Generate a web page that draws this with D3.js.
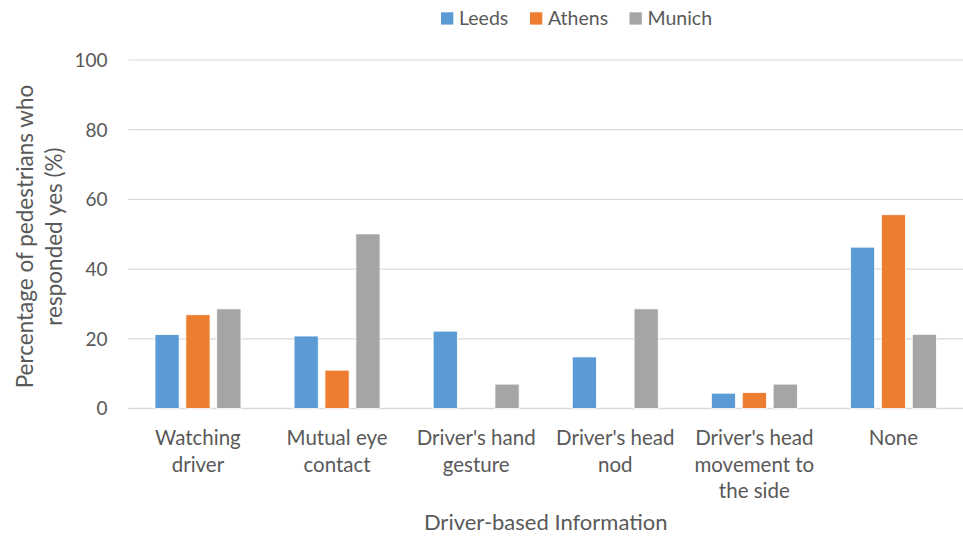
<!DOCTYPE html>
<html><head><meta charset="utf-8">
<script src="https://cdn.jsdelivr.net/npm/d3@7"></script>
<style>body{margin:0;background:#fff}svg{display:block}text{font-family:Lato,"Open Sans",sans-serif;fill:#595959}</style>
</head><body><svg id="c" width="963" height="536"></svg>
<script>
const categories = [["Watching","driver"],["Mutual eye","contact"],["Driver's hand","gesture"],["Driver's head","nod"],["Driver's head","movement to","the side"],["None"]];
const seriesNames = ["Leeds","Athens","Munich"];
const leeds = [21.2, 20.8, 22.2, 14.8, 4.4, 46.3];
const athens = [26.9, 11.0, 0, 0, 4.6, 55.6];
const munich = [28.6, 50.1, 7.0, 28.6, 7.0, 21.3];
const yTicks = [0,20,40,60,80,100];
const colors = ["#5B9BD5","#ED7D31","#A5A5A5"];

(function(){
const values = [leeds, athens, munich];
const svg = d3.select("#c");
const pL = 128.4, pR = 963, pT = 60, pB = 408.5;
const catKeys = categories.map((c,i)=>i);
const x = d3.scaleBand().domain(catKeys).range([pL,pR]).padding(0);
const groupW = x.step()*0.618;
const xs = d3.scaleBand().domain(seriesNames).range([0,groupW]).paddingInner(0.217).paddingOuter(0);
const y = d3.scaleLinear().domain([0,100]).range([pB,pT]);

svg.append("g").selectAll("line").data(yTicks).join("line")
  .attr("x1",pL).attr("x2",pR).attr("y1",d=>y(d)).attr("y2",d=>y(d))
  .attr("stroke","#D9D9D9").attr("stroke-width",d=>d===0?1.5:1.2);

svg.append("g").selectAll("text").data(yTicks).join("text")
  .attr("x",107.5).attr("y",d=>y(d)).attr("dy","0.36em").attr("text-anchor","end")
  .attr("font-size",19).text(d=>d);

const bars = [];
catKeys.forEach(ci=>seriesNames.forEach((s,si)=>{ if(values[si][ci]>0) bars.push({ci,si,s,v:values[si][ci]}); }));
svg.append("g").selectAll("rect").data(bars).join("rect")
  .attr("x",d=>x(d.ci)+(x.step()-groupW)/2+xs(d.s))
  .attr("width",xs.bandwidth())
  .attr("y",d=>y(d.v)).attr("height",d=>y(0)-y(d.v))
  .attr("fill",d=>colors[d.si]).attr("stroke","#fff").attr("stroke-width",0.8);

const cl = svg.append("g");
categories.forEach((lines,i)=>{
  const t = cl.append("text").attr("text-anchor","middle").attr("font-size",20.5)
    .attr("x",x(i)+x.step()/2).attr("y",445);
  lines.forEach((ln,j)=>t.append("tspan").attr("x",x(i)+x.step()/2).attr("dy",j===0?0:26.5).text(ln));
});

svg.append("text").attr("x",(pL+pR)/2).attr("y",530).attr("text-anchor","middle")
  .attr("font-size",22).text("Driver-based Information");

const yt = svg.append("text").attr("transform",`translate(33,236.5) rotate(-90)`)
  .attr("text-anchor","middle").attr("font-size",22.5);
yt.append("tspan").attr("x",0).attr("y",0).text("Percentage of pedestrians who");
yt.append("tspan").attr("x",0).attr("y",29).text("responded yes (%)");

const legX = [441, 530, 629.5];
const lg = svg.append("g").selectAll("g").data(seriesNames).join("g")
  .attr("transform",(d,i)=>`translate(${legX[i]},12.3)`);
lg.append("rect").attr("width",12.3).attr("height",12.3).attr("fill",(d,i)=>colors[i]);
lg.append("text").attr("x",18).attr("y",12.7).attr("font-size",19.5).text(d=>d);
})();
</script></body></html>
